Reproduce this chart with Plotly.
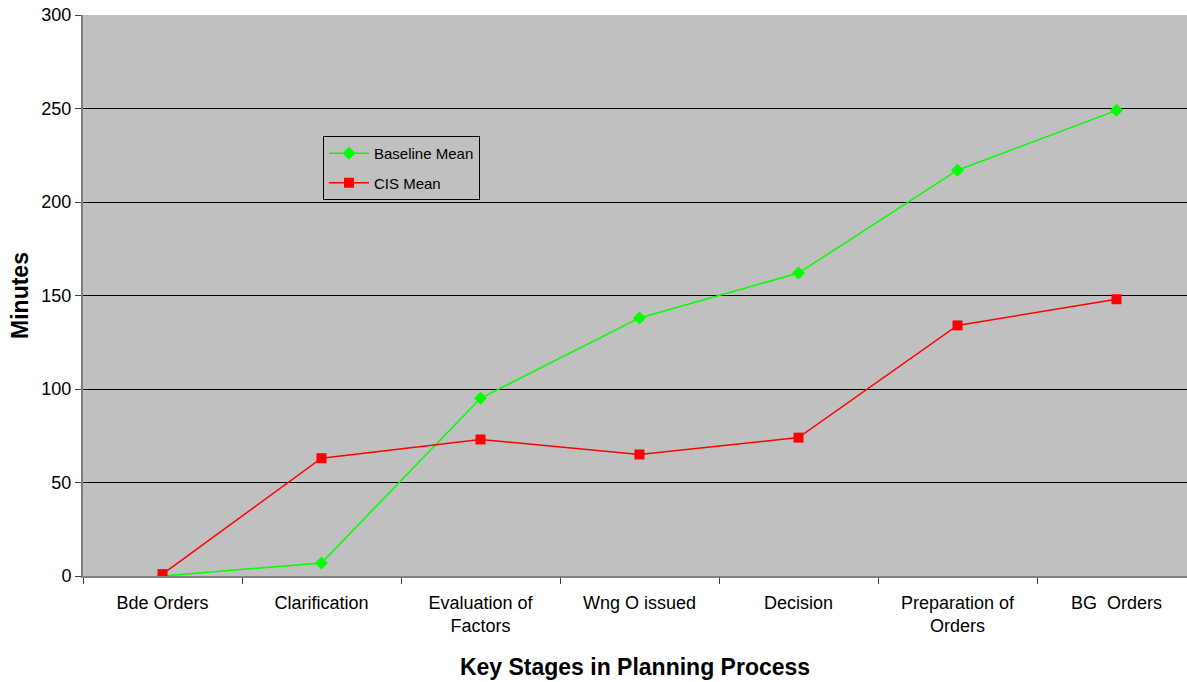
import plotly.graph_objects as go

stages = ["Bde Orders", "Clarification", "Evaluation of<br>Factors", "Wng O issued",
          "Decision", "Preparation of<br>Orders", "BG\u00a0\u00a0Orders"]
baseline_mean = [0, 7, 95, 138, 162, 217, 249]
cis_mean = [1, 63, 73, 65, 74, 134, 148]

font_family = "Liberation Sans, Arial, sans-serif"

fig = go.Figure()
fig.add_trace(go.Scatter(
    x=stages, y=baseline_mean, name="Baseline Mean", mode="lines+markers",
    legendgroup="base",
    line=dict(color="#00FF00", width=1.5),
    marker=dict(symbol="diamond", size=10, color="#00FF00"),
))
fig.add_trace(go.Scatter(
    x=stages, y=cis_mean, name="CIS Mean", mode="lines+markers",
    legendgroup="cis",
    line=dict(color="#FF0000", width=1.5),
    marker=dict(symbol="square", size=10, color="#FF0000"),
))

fig.update_layout(
    width=1187, height=682,
    margin=dict(l=83, r=0, t=15, b=106),
    paper_bgcolor="white", plot_bgcolor="#C0C0C0",
    font=dict(family=font_family, size=18, color="black"),
    showlegend=True,
    legend=dict(
        x=(323 - 83) / 1104, y=(576 - 136) / 561, xanchor="left", yanchor="top",
        bgcolor="#C0C0C0", bordercolor="black", borderwidth=1,
        font=dict(size=15), traceorder="grouped", tracegroupgap=7, itemwidth=40,
    ),
    xaxis=dict(
        type="category", range=[-0.5, -0.5 + 1104 / 159],
        tickson="boundaries", ticks="outside", ticklen=6, tickcolor="#404040",
        showgrid=False, showline=True, linecolor="#808080", linewidth=2,
        tickfont=dict(size=18), ticklabelstandoff=9,
        title=dict(text="<b>Key Stages in Planning Process</b>", font=dict(size=23), standoff=24),
    ),
    yaxis=dict(
        range=[0, 300], dtick=50, ticks="outside", ticklen=6, tickcolor="#404040",
        showgrid=True, gridcolor="black", gridwidth=1,
        showline=True, linecolor="#808080", linewidth=2, mirror=False,
        zeroline=False, tickfont=dict(size=18),
        title=dict(text="<b>Minutes</b>", font=dict(size=23), standoff=6),
    ),
)

fig.write_html("out.html")
